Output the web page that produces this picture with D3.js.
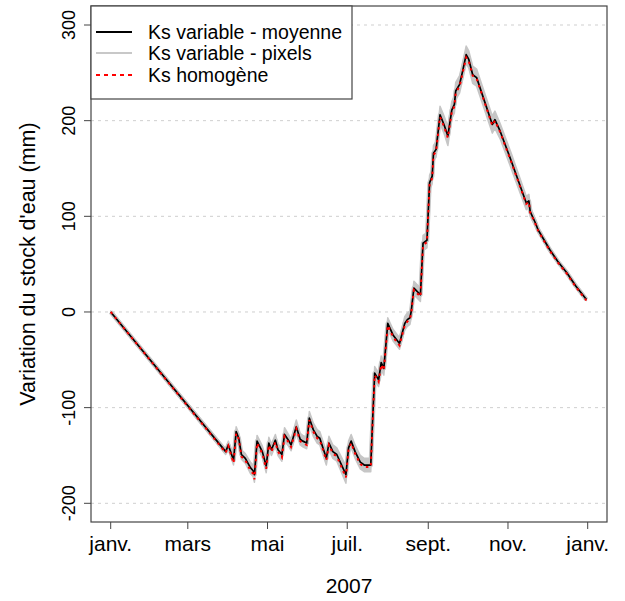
<!DOCTYPE html>
<html><head><meta charset="utf-8">
<script src="https://cdn.jsdelivr.net/npm/d3@7"></script>
<style>
body{margin:0;background:#fff}
svg{display:block}
text{font-family:"Liberation Sans",Arial,Helvetica,sans-serif;fill:#000}
</style>
</head><body>
<svg id="c" width="625" height="601"></svg>
<script>
// ---- data ----
const dates = ["2007-01-01","2007-03-30","2007-04-01","2007-04-05","2007-04-07","2007-04-09","2007-04-11","2007-04-14","2007-04-18","2007-04-20",
"2007-04-21","2007-04-23","2007-04-27","2007-04-30","2007-05-02","2007-05-04","2007-05-07","2007-05-09","2007-05-12","2007-05-14",
"2007-05-17","2007-05-19","2007-05-23","2007-05-26","2007-05-28","2007-05-31","2007-06-02","2007-06-05","2007-06-08","2007-06-10",
"2007-06-15","2007-06-17","2007-06-20","2007-06-23","2007-06-30","2007-07-02","2007-07-04","2007-07-07","2007-07-11","2007-07-14",
"2007-07-19","2007-07-20","2007-07-22","2007-07-25","2007-07-27","2007-07-29","2007-08-01","2007-08-05","2007-08-10","2007-08-14",
"2007-08-16","2007-08-18","2007-08-19","2007-08-21","2007-08-26","2007-08-28","2007-08-31","2007-09-02","2007-09-04","2007-09-05",
"2007-09-07","2007-09-10","2007-09-13","2007-09-16","2007-09-19","2007-09-21","2007-09-22","2007-09-25","2007-09-27","2007-09-30",
"2007-10-02","2007-10-05","2007-10-08","2007-10-20","2007-10-22","2007-10-26","2007-11-04","2007-11-05","2007-11-15","2007-11-17",
"2007-11-18","2007-11-22","2007-11-24","2007-12-03","2007-12-09","2007-12-16","2007-12-23","2007-12-31"];

// Ks variable - moyenne (mm)
const meanValues = [0,-146,-139,-155,-125,-132,-149,-153,-163,-166,
-170,-135,-146,-161,-137,-144,-134,-144,-149,-128,
-134,-139,-120,-133,-135,-137,-111,-123,-130,-132,
-153,-137,-146,-149,-170,-142,-135,-146,-157,-160,
-160,-127,-64,-71,-53,-59,-12,-24,-33,-12,
-8,-6,1,25,18,72,75,135,142,166,
170,206,196,184,211,217,231,238,250,269,
264,248,245,196,201,189,156,152,114,116,
105,93,86,65,53,41,27,13];

// Ks homogène (mm)
const homogValues = [0,-147,-140,-158,-127,-133,-151,-155,-166,-169,
-175,-137,-148,-164,-139,-146,-136,-146,-152,-130,
-136,-141,-122,-135,-137,-139,-113,-125,-132,-134,
-155,-139,-148,-151,-173,-144,-137,-148,-159,-162,
-162,-129,-66,-73,-55,-61,-14,-26,-35,-14,
-10,-8,-1,23,16,70,73,133,140,164,
168,204,194,182,209,215,229,236,248,266,
262,247,244,195,200,188,155,151,113,115,
104,92,85,64,52,40,26,12];

// Ks variable - pixels : half-spread of the pixel band around the mean (mm)
const pixelSpread = [1,3,4,5,5,5,5,5,6,6,
8,6,6,7,6,6,6,6,7,7,
6,6,7,6,6,6,7,7,7,7,
7,7,7,7,9,7,7,7,7,7,
7,7,7,7,7,7,6,6,6,7,
7,7,7,7,7,8,8,8,8,8,
8,9,9,10,9,9,9,9,9,9,
9,9,9,9,9,8,8,8,7,7,
5,4,3,2,1,1,1,1];

const yTicks = [-200,-100,0,100,200,300];
const monthTicks = ["2007-01-01","2007-03-01","2007-05-01","2007-07-01","2007-09-01","2007-11-01","2008-01-01"];
const monthLabels = ["janv.","mars","mai","juil.","sept.","nov.","janv."];
const legendLabels = ["Ks variable - moyenne","Ks variable - pixels","Ks homogène"];
const xTitle = "2007";
const yTitle = "Variation du stock d'eau (mm)";

// ---- layout ----
const box = {l:91, r:607, t:6, b:522};
const parse = d3.timeParse("%Y-%m-%d");
const x = d3.scaleTime().domain([parse("2007-01-01"), parse("2008-01-01")]).range([110.7, 587.7]);
const y = d3.scaleLinear().domain([-200, 300]).range([503.3, 25]);

const svg = d3.select("#c");
svg.append("rect").attr("width",625).attr("height",601).attr("fill","#fff");

const rows = dates.map((d,i)=>({t:parse(d), m:meanValues[i], h:homogValues[i], s:pixelSpread[i]}));

// grid
svg.append("g").selectAll("line").data(yTicks).join("line")
  .attr("x1",box.l).attr("x2",box.r)
  .attr("y1",d=>y(d)).attr("y2",d=>y(d))
  .attr("stroke","#cfcfcf").attr("stroke-width",1).attr("stroke-dasharray","3,4");

const g = svg.append("g");
// pixel band
const area = d3.area().x(d=>x(d.t)).y0(d=>y(d.m - d.s)).y1(d=>y(d.m + d.s));
g.append("path").datum(rows).attr("d",area).attr("fill","#c6c6c6").attr("stroke","#c6c6c6").attr("stroke-width",1.5).attr("stroke-linejoin","round");
const line = d3.line().x(d=>x(d.t)).y(d=>y(d.m));
g.append("path").datum(rows).attr("d",line).attr("fill","none").attr("stroke","#c6c6c6").attr("stroke-width",4.5).attr("stroke-linejoin","round");
// mean
g.append("path").datum(rows).attr("d",line).attr("fill","none").attr("stroke","#000").attr("stroke-width",1.7).attr("stroke-linejoin","round");
// homogeneous
const lineH = d3.line().x(d=>x(d.t)).y(d=>y(d.h));
g.append("path").datum(rows).attr("d",lineH).attr("fill","none").attr("stroke","#ff0000").attr("stroke-width",2).attr("stroke-dasharray","2.5,4");

// box
svg.append("rect").attr("x",box.l).attr("y",box.t).attr("width",box.r-box.l).attr("height",box.b-box.t)
  .attr("fill","none").attr("stroke","#444").attr("stroke-width",1.2);

// y axis
const ya = svg.append("g");
ya.selectAll("line").data(yTicks).join("line")
  .attr("x1",box.l-7).attr("x2",box.l).attr("y1",d=>y(d)).attr("y2",d=>y(d)).attr("stroke","#444");
ya.selectAll("text").data(yTicks).join("text")
  .attr("transform",d=>`translate(75,${y(d)}) rotate(-90)`)
  .attr("text-anchor","middle").style("font-size","18px").text(d=>d);

// x axis
const xa = svg.append("g");
xa.selectAll("line").data(monthTicks).join("line")
  .attr("x1",d=>x(parse(d))).attr("x2",d=>x(parse(d))).attr("y1",box.b).attr("y2",box.b+7).attr("stroke","#444");
xa.selectAll("text").data(monthTicks).join("text")
  .attr("x",d=>x(parse(d))).attr("y",551).attr("text-anchor","middle").style("font-size","21px")
  .text((d,i)=>monthLabels[i]);

svg.append("text").attr("x",(box.l+box.r)/2).attr("y",593).attr("text-anchor","middle").style("font-size","21px").text(xTitle);
svg.append("text").attr("transform",`translate(35,${(box.t+box.b)/2}) rotate(-90)`).attr("text-anchor","middle").style("font-size","21.5px").text(yTitle);

// legend
const lg = svg.append("g");
lg.append("rect").attr("x",box.l).attr("y",box.t).attr("width",261).attr("height",93).attr("fill","#fff").attr("stroke","#444").attr("stroke-width",1.2);
const legStyles = [{c:"#000",w:2,da:null},{c:"#c8c8c8",w:2,da:null},{c:"#ff0000",w:2,da:"4,4"}];
const legY = [32,53,75];
legendLabels.forEach((lab,i)=>{
  const l = lg.append("line").attr("x1",96).attr("x2",132).attr("y1",legY[i]).attr("y2",legY[i])
    .attr("stroke",legStyles[i].c).attr("stroke-width",legStyles[i].w);
  if (legStyles[i].da) l.attr("stroke-dasharray",legStyles[i].da);
  lg.append("text").attr("x",148).attr("y",legY[i]+6.5).style("font-size","19.5px").text(lab);
});
</script>
</body></html>
